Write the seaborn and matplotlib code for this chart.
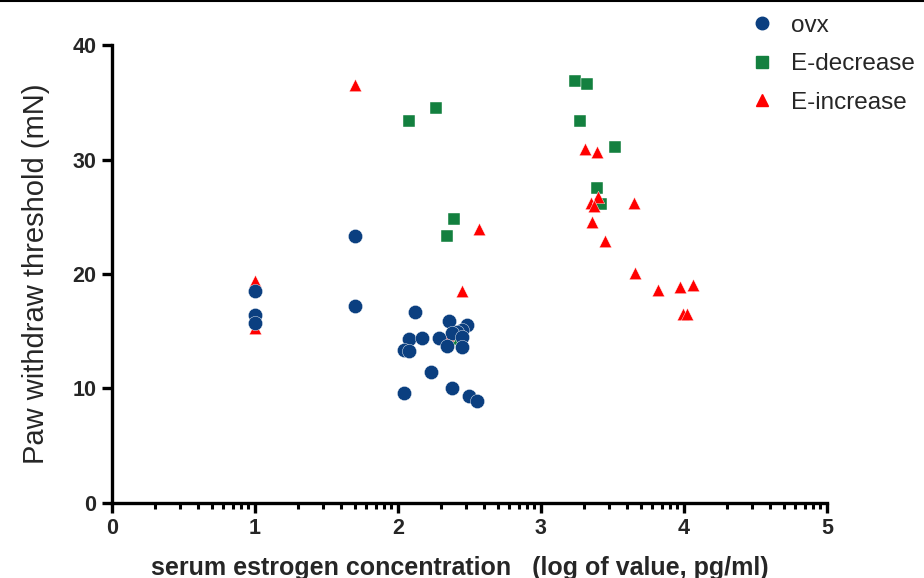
import numpy as np
import pandas as pd
import seaborn as sns
import matplotlib.pyplot as plt
from matplotlib.lines import Line2D

sns.set_style("white")
plt.rcParams["font.family"] = ["Liberation Sans", "DejaVu Sans"]

# values (x = log10 of pg/ml, y = mN)
ovx_x = [1.0, 1.0, 1.0, 1.70, 1.70, 2.12, 2.36, 2.48, 2.45, 2.41, 2.38, 2.45,
         2.08, 2.17, 2.29, 2.34, 2.45, 2.04, 2.08, 2.23, 2.04, 2.38, 2.50, 2.55]
ovx_y = [18.5, 16.4, 15.7, 23.3, 17.2, 16.7, 15.9, 15.5, 15.1, 14.9, 14.8, 14.5,
         14.3, 14.4, 14.4, 13.7, 13.6, 13.4, 13.3, 11.4, 9.6, 10.0, 9.3, 8.9]

dec_x = [2.08, 2.27, 2.39, 2.34, 2.41, 3.24, 3.32, 3.27, 3.52, 3.39, 3.42]
dec_y = [33.4, 34.5, 24.8, 23.3, 14.3, 36.9, 36.6, 33.4, 31.1, 27.5, 26.1]

inc_x = [1.0, 1.0, 1.70, 2.35, 2.45, 2.57, 3.31, 3.39, 3.35, 3.40, 3.37, 3.65,
         3.36, 3.45, 3.66, 3.82, 3.97, 4.06, 3.99, 4.02]
inc_y = [19.4, 15.3, 36.5, 14.7, 18.5, 23.9, 30.9, 30.7, 26.2, 26.7, 25.9, 26.2,
         24.5, 22.9, 20.1, 18.6, 18.9, 19.0, 16.5, 16.5]

groups = ["ovx", "E-decrease", "E-increase"]
colors = {"ovx": "#0b3f80", "E-decrease": "#13803f", "E-increase": "#ff0000"}
markers = {"ovx": "o", "E-decrease": "s", "E-increase": "^"}

df = pd.concat([
    pd.DataFrame({"x": ovx_x, "y": ovx_y, "group": "ovx"}),
    pd.DataFrame({"x": dec_x, "y": dec_y, "group": "E-decrease"}),
    pd.DataFrame({"x": inc_x, "y": inc_y, "group": "E-increase"}),
], ignore_index=True)

fig = plt.figure(figsize=(9.24, 5.78), dpi=100)
ax = fig.add_axes([0.121, 0.130, 0.774, 0.792])

# draw in order so circles sit on top like the original
for g, s in [("E-decrease", 75), ("E-increase", 80), ("ovx", 105)]:
    sub = df[df["group"] == g]
    sns.scatterplot(data=sub, x="x", y="y", color=colors[g], marker=markers[g],
                    s=s, linewidth=0.3, edgecolor="white", ax=ax, legend=False,
                    zorder=3 if g == "ovx" else 2)

ax.set_xlim(0, 5)
ax.set_ylim(0, 40)
ax.set_xticks([0, 1, 2, 3, 4, 5])
ax.set_yticks([0, 10, 20, 30, 40])
minor = [k + np.log10(m) for k in range(5) for m in range(2, 10)]
ax.set_xticks(minor, minor=True)

for side in ["top", "right"]:
    ax.spines[side].set_visible(False)
for side in ["left", "bottom"]:
    ax.spines[side].set_linewidth(2.4)
    ax.spines[side].set_color("black")

ax.tick_params(axis="both", which="major", direction="out", length=7, width=2.4,
               labelsize=15.5, color="black", bottom=True, left=True, pad=4)
ax.tick_params(axis="x", which="minor", direction="out", length=4.5, width=2.2,
               color="black", bottom=True)
for lab in ax.get_xticklabels() + ax.get_yticklabels():
    lab.set_fontweight("bold")

ax.set_xlabel("serum estrogen concentration   (log of value, pg/ml)",
              fontsize=18, fontweight="bold", labelpad=12)
ax.xaxis.label.set_x(0.486)
ax.set_ylabel("Paw withdraw threshold (mN)", fontsize=21, labelpad=16)

handles = [Line2D([0], [0], marker=markers[g], color="none", markerfacecolor=colors[g],
                  markeredgecolor=colors[g], markersize=ms, label=g)
           for g, ms in zip(groups, [9, 8, 8])]
fig.legend(handles=handles, loc="upper left", bbox_to_anchor=(0.789, 1.0),
           frameon=False, fontsize=17.5, handletextpad=0.45, labelspacing=0.68,
           borderaxespad=0.2, handlelength=1.5)

fig.add_artist(Line2D([0, 1], [0.998, 0.998], transform=fig.transFigure,
                      color="black", linewidth=1.5))

fig.savefig("out.png", dpi=100)
